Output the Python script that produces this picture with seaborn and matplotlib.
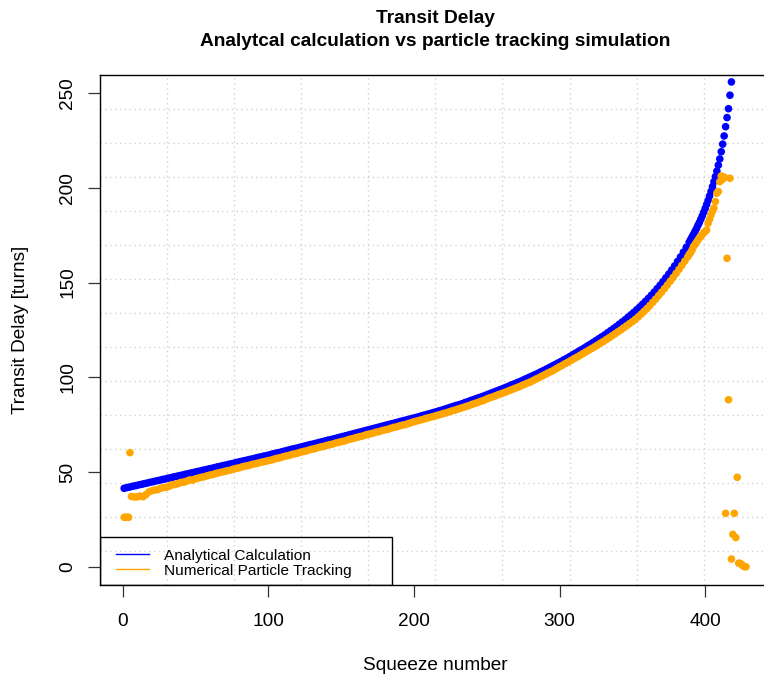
import numpy as np
import pandas as pd
import matplotlib
matplotlib.use("Agg")
import matplotlib.pyplot as plt
from matplotlib.lines import Line2D
from matplotlib.patches import Rectangle
import seaborn as sns

TITLE = "Transit Delay\nAnalytcal calculation vs particle tracking simulation"
X_LABEL = "Squeeze number"
Y_LABEL = "Transit Delay [turns]"
SERIES = ["Analytical Calculation", "Numerical Particle Tracking"]
X_TICKS = [0, 100, 200, 300, 400]
Y_TICKS = [0, 50, 100, 150, 200, 250]

# analytical transit delay per squeeze number
analytic_n = list(range(1, 390, 2)) + list(range(390, 419))
analytic_t = [
    41.5, 41.9, 42.2, 42.6, 42.9, 43.3, 43.6, 44.0, 44.3, 44.7, 45.0, 45.4, 45.7,
    46.1, 46.4, 46.8, 47.1, 47.5, 47.8, 48.2, 48.5, 48.9, 49.2, 49.6, 49.9,
    50.3, 50.6, 51.0, 51.3, 51.7, 52.0, 52.4, 52.8, 53.1, 53.5, 53.8, 54.2, 54.5,
    54.9, 55.3, 55.6, 56.0, 56.3, 56.7, 57.0, 57.4, 57.8, 58.1, 58.5, 58.8,
    59.2, 59.6, 60.0, 60.3, 60.7, 61.1, 61.5, 61.9, 62.3, 62.6, 63.0, 63.4, 63.8,
    64.2, 64.6, 64.9, 65.3, 65.7, 66.1, 66.5, 66.9, 67.2, 67.6, 68.0, 68.4,
    68.8, 69.2, 69.6, 70.0, 70.4, 70.8, 71.2, 71.6, 72.0, 72.4, 72.8, 73.2, 73.6,
    74.0, 74.4, 74.8, 75.2, 75.6, 76.0, 76.4, 76.8, 77.2, 77.6, 78.0, 78.4,
    78.8, 79.2, 79.7, 80.1, 80.5, 80.9, 81.4, 81.8, 82.3, 82.7, 83.2, 83.7, 84.2,
    84.7, 85.2, 85.6, 86.1, 86.7, 87.2, 87.8, 88.3, 88.9, 89.4, 89.9, 90.5,
    91.1, 91.7, 92.3, 92.9, 93.5, 94.1, 94.7, 95.3, 96.0, 96.6, 97.3, 97.9, 98.6,
    99.3, 100.0, 100.7, 101.4, 102.1, 102.9, 103.6, 104.4, 105.2, 106.0, 106.8, 107.6,
    108.4, 109.3, 110.1, 111.0, 111.9, 112.8, 113.7, 114.6, 115.5, 116.5, 117.4,
    118.4, 119.4, 120.4, 121.4,
    122.4, 123.5, 124.6, 125.7, 126.8, 128.0, 129.2, 130.4, 131.7, 133.0,
    134.3, 135.7, 137.1, 138.6, 140.1, 141.7, 143.3, 145.0, 146.8, 148.6,
    150.5, 152.5, 154.5, 156.6, 158.8, 161.1, 163.5, 166.0, 168.6, 171.3,
    172.7, 174.1, 175.5, 177.0, 178.5, 180.1, 181.7, 183.4, 185.2, 187.1,
    189.1, 191.2, 193.4, 195.7, 198.1, 200.6, 203.2, 205.9, 208.8, 211.9,
    215.2, 219.0, 223.0, 227.3, 232.2, 237.0, 241.7, 248.8, 255.8,
]

# particle tracking result per squeeze number
tracking_n = [1, 2, 3, 4, 5] + list(range(6, 389, 2)) + list(range(389, 429))
tracking_t = [
    26.2, 26.2, 26.2, 26.2, 60.3,
    37.2, 36.9, 37.0, 37.4, 37.1, 38.2, 39.6, 40.2, 40.6, 40.8, 41.5, 41.9, 42.0,
    42.6, 43.3, 43.5, 44.0, 44.6, 44.7, 45.3, 45.9, 45.8,
    46.5, 46.9, 47.3, 47.6, 48.1, 48.5, 48.8, 49.3, 49.7, 50.0, 50.4, 50.8, 51.1,
    51.6, 52.0, 52.3, 52.8, 53.2, 53.4, 53.9, 54.3, 54.6, 55.0, 55.4, 55.7, 56.1,
    56.4, 56.9, 57.3, 57.6, 58.1, 58.5, 58.8, 59.3, 59.7, 60.0, 60.5, 60.9, 61.2,
    61.7, 62.1, 62.4, 62.9, 63.3, 63.6, 64.1, 64.5, 64.8, 65.3, 65.7, 66.1,
    66.4, 66.9, 67.4, 67.7, 68.2, 68.6, 68.9, 69.4, 69.9, 70.2, 70.6, 71.1, 71.4,
    71.9, 72.3, 72.6, 73.1, 73.6, 73.9, 74.4, 74.8, 75.1, 75.6, 76.1, 76.6,
    77.0, 77.4, 77.8, 78.3, 78.7, 79.1, 79.5, 80.0, 80.4, 80.9, 81.3, 81.8, 82.3,
    82.7, 83.2, 83.7, 84.2, 84.7, 85.2, 85.8, 86.3, 86.8, 87.4, 87.9, 88.6,
    89.2, 89.7, 90.3, 90.9, 91.4, 92.0, 92.6, 93.2, 93.8, 94.4, 95.0, 95.7, 96.3,
    97.0, 97.6, 98.4, 99.2, 99.9, 100.7, 101.5, 102.3, 103.0, 103.8, 104.7, 105.6,
    106.4, 107.3, 108.1, 109.0, 109.9, 110.7, 111.6, 112.5, 113.4, 114.3, 115.2,
    116.1, 117.0, 118.0, 118.9, 119.9, 120.9, 121.9, 122.9, 124.0, 125.0, 126.1,
    127.2, 128.3, 129.4,
    130.6, 131.9, 133.3, 134.8, 136.3, 137.9, 139.6, 141.3, 143.1, 144.9,
    146.8, 148.7, 150.7, 152.7, 154.8, 156.9, 159.1, 161.3, 163.5,
    164.8, 165.8, 167.2, 169.0, 170.1, 171.2, 172.4, 173.6, 174.2, 175.3,
    176.4, 176.9, 177.7, 181.3, 183.4, 185.7, 187.6, 189.2, 192.7, 197.1,
    198.0, 203.2, 206.2, 204.4, 205.6, 28.3, 162.8, 88.2, 205.0, 4.2,
    17.2, 28.3, 15.5, 47.3, 2.0, 1.9, 1.3, 0.6, 0.2, 0.1,
]

COLORS = {SERIES[0]: "#0000ff", SERIES[1]: "#ffa500"}

plt.rcParams["font.family"] = ["Liberation Sans", "DejaVu Sans"]

df = pd.concat([
    pd.DataFrame({"n": analytic_n, "t": analytic_t, "method": SERIES[0]}),
    pd.DataFrame({"n": tracking_n, "t": tracking_t, "method": SERIES[1]}),
], ignore_index=True)

fig = plt.figure(figsize=(7.64, 6.8), dpi=100)
ax = fig.add_axes([0.1305, 0.1397, 0.8787, 0.7504])

X0, X1 = -15.8, 445.2
Y0, Y1 = -9.5, 259.6
ax.set_xlim(X0, X1)
ax.set_ylim(Y0, Y1)

# dotted light-gray grid: 10 columns by 15 rows over the plot region
grid_style = dict(color="#d3d3d3", lw=1.0, ls=(0, (1, 2.5)), zorder=0)
for gx in np.linspace(X0, X1, 11):
    ax.axvline(gx, **grid_style)
for gy in np.linspace(Y0, Y1, 16):
    ax.axhline(gy, **grid_style)

sns.scatterplot(data=df, x="n", y="t", hue="method", palette=COLORS,
                s=30, linewidth=0, legend=False, ax=ax, zorder=2)

for sp in ax.spines.values():
    sp.set_color("black")
    sp.set_linewidth(1.0)

ax.set_xticks(X_TICKS)
ax.set_yticks(Y_TICKS)
ax.tick_params(axis="both", direction="out", length=8.4, width=0.9,
               color="#333333", labelsize=13.7)
ax.tick_params(axis="x", pad=12.0)
ax.tick_params(axis="y", pad=8.6, labelrotation=90)
for lab in ax.get_yticklabels():
    lab.set_va("center")

ax.set_xlabel(X_LABEL, fontsize=13.7, va="center")
ax.xaxis.set_label_coords(0.5, -0.1568)
ax.set_ylabel(Y_LABEL, fontsize=13.7, va="center")
ax.yaxis.set_label_coords(-0.1187, 0.5)

ax.set_title(TITLE, fontsize=13.8, fontweight="bold", pad=21, linespacing=1.45)

# legend in the lower-left corner of the plot region
handles = [Line2D([], [], color=COLORS[s], lw=1.0) for s in SERIES]
leg = ax.legend(handles, SERIES, loc="upper left", bbox_to_anchor=(0.0238, 0.071),
                frameon=False, fontsize=11.1, handlelength=2.16, handletextpad=1.0,
                labelspacing=0.05, borderpad=0, borderaxespad=0)
ax.add_patch(Rectangle((0, 0), 0.4354, 0.0935, transform=ax.transAxes,
                       fill=False, edgecolor="black", lw=1.0, zorder=5))

fig.savefig("out.png", dpi=100)
